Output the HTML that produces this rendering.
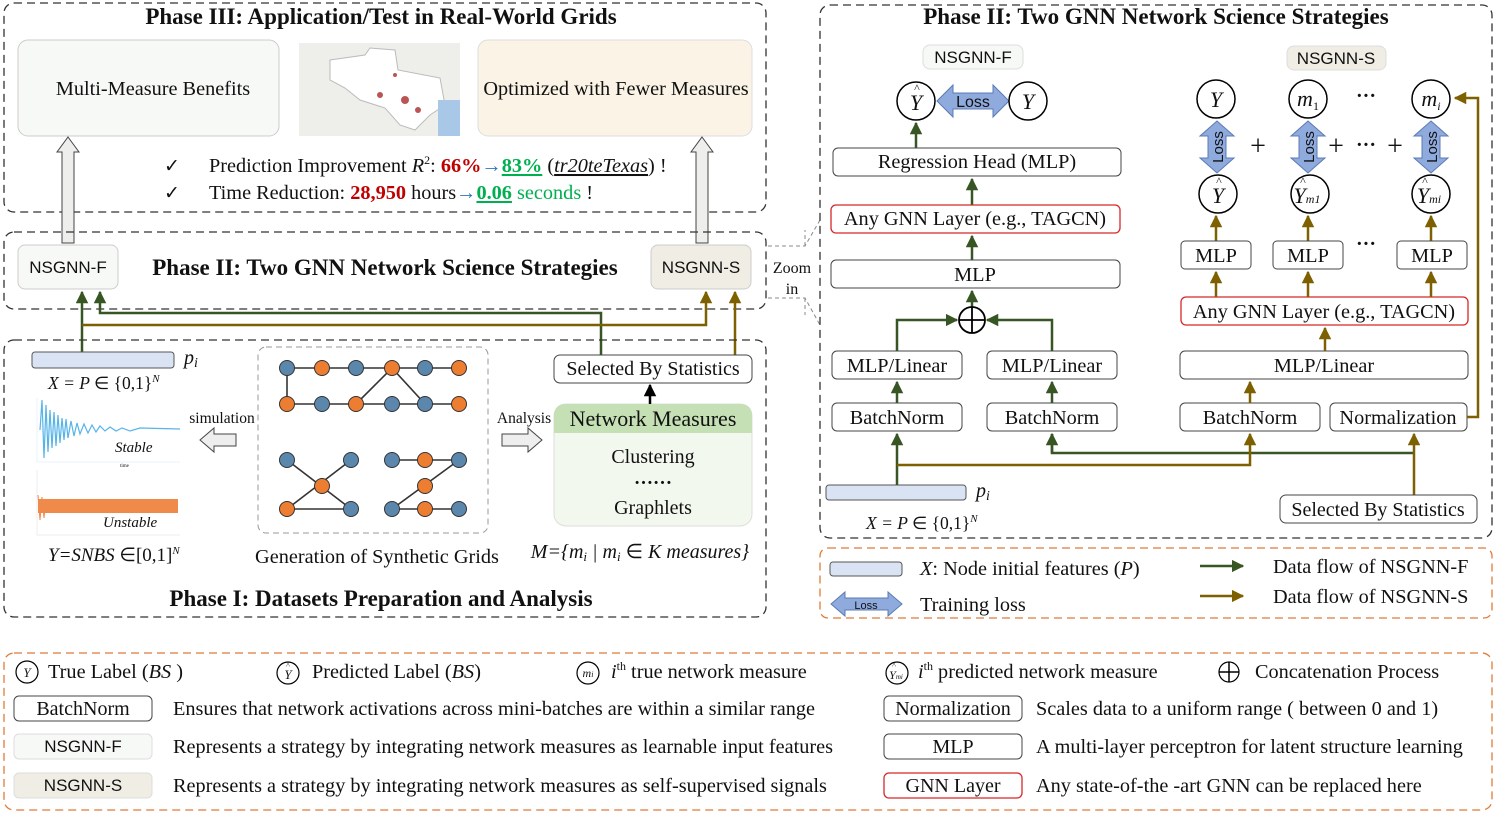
<!DOCTYPE html>
<html><head><meta charset="utf-8"><style>
html,body{margin:0;padding:0;background:#fff}
svg{display:block}
text{font-family:"Liberation Serif",serif;fill:#111}
.s{font-family:"Liberation Sans",sans-serif}
.b{font-weight:bold}
.i{font-style:italic}
</style></head><body>
<svg width="1496" height="815" viewBox="0 0 1496 815" xmlns="http://www.w3.org/2000/svg">
<defs>
<marker id="g" viewBox="0 0 10 10" refX="9" refY="5" markerWidth="5" markerHeight="5" orient="auto"><path d="M0,0L10,5L0,10z" fill="#375623"/></marker>
<marker id="o" viewBox="0 0 10 10" refX="9" refY="5" markerWidth="5" markerHeight="5" orient="auto"><path d="M0,0L10,5L0,10z" fill="#7f6000"/></marker>
<marker id="k" viewBox="0 0 10 10" refX="9" refY="5" markerWidth="5" markerHeight="5" orient="auto"><path d="M0,0L10,5L0,10z" fill="#000"/></marker>
</defs>

<!-- Phase III -->
<rect x="4" y="3" width="762" height="209" rx="10" fill="none" stroke="#333" stroke-width="1.3" stroke-dasharray="8,5"/>
<text x="381" y="24" font-size="23" text-anchor="middle" class="b">Phase III: Application/Test in Real-World Grids</text>
<rect x="18" y="40" width="261" height="96" rx="10" fill="#f7f9f6" stroke="#ccc"/>
<text x="153" y="95" font-size="20.3" text-anchor="middle">Multi-Measure Benefits</text>
<rect x="299" y="43" width="161" height="93" fill="#eeeeea"/>
<path d="M330,60 L365,55 L370,48 L395,50 L398,70 L440,78 L445,105 L430,115 L415,130 L400,125 L385,108 L360,100 L345,88 L330,80z" fill="#fff" stroke="#bbb"/>
<rect x="438" y="100" width="22" height="36" fill="#a9c8e8"/>
<circle cx="405" cy="100" r="4" fill="#b55"/><circle cx="380" cy="95" r="3" fill="#b55"/><circle cx="418" cy="110" r="3" fill="#b55"/><circle cx="395" cy="75" r="2" fill="#b55"/>
<rect x="478" y="40" width="274" height="96" rx="10" fill="#faf3e6" stroke="#ddd"/>
<text x="616" y="95" font-size="20.3" text-anchor="middle">Optimized with Fewer Measures</text>
<polygon points="68,137 79,152 74,152 74,243 62,243 62,152 57,152" fill="#eeeeec" stroke="#444"/>
<polygon points="702,137 713,152 708,152 708,243 696,243 696,152 691,152" fill="#eeeeec" stroke="#444"/>
<text x="164" y="172" font-size="19">✓</text>
<text x="209" y="172" font-size="20.3">Prediction Improvement <tspan class="i">R</tspan><tspan font-size="12" dy="-8">2</tspan><tspan dy="8">:  </tspan><tspan fill="#c00000" class="b">66%</tspan><tspan fill="#2e75b6">→</tspan><tspan fill="#00b050" class="b" text-decoration="underline">83%</tspan> (<tspan class="i" text-decoration="underline">tr20teTexas</tspan>) !</text>
<text x="164" y="199" font-size="19">✓</text>
<text x="209" y="199" font-size="20.3">Time Reduction: <tspan fill="#c00000" class="b">28,950</tspan> hours<tspan fill="#2e75b6">→</tspan><tspan fill="#00b050" class="b" text-decoration="underline">0.06</tspan><tspan fill="#00b050"> seconds</tspan> !</text>

<!-- Phase II small -->
<rect x="4" y="232" width="762" height="77" rx="10" fill="none" stroke="#333" stroke-width="1.3" stroke-dasharray="8,5"/>
<rect x="18" y="245" width="100" height="44" rx="7" fill="#f7f9f6" stroke="#ccc"/>
<text x="68" y="273" font-size="17" text-anchor="middle" class="s">NSGNN-F</text>
<text x="385" y="275" font-size="23" text-anchor="middle" class="b">Phase II: Two GNN Network Science Strategies</text>
<rect x="651" y="245" width="100" height="44" rx="7" fill="#f0ede4" stroke="#ccc"/>
<text x="701" y="273" font-size="17" text-anchor="middle" class="s">NSGNN-S</text>
<path d="M768,246 L805,246 L820,220 M768,298 L805,298 L820,325 M805,246 L805,230 M805,298 L805,315" fill="none" stroke="#888" stroke-dasharray="4,3"/>
<text x="792" y="273" font-size="16" text-anchor="middle">Zoom</text>
<text x="792" y="294" font-size="16" text-anchor="middle">in</text>

<!-- connectors left -->
<path d="M82,352 L82,292" stroke="#375623" stroke-width="2.5" fill="none" marker-end="url(#g)"/>
<path d="M601,356 L601,313 L100,313 L100,292" stroke="#375623" stroke-width="2.5" fill="none" marker-end="url(#g)"/>
<path d="M82,325 L706,325 L706,292" stroke="#7f6000" stroke-width="2.5" fill="none" marker-end="url(#o)"/>
<path d="M735,356 L735,292" stroke="#7f6000" stroke-width="2.5" fill="none" marker-end="url(#o)"/>

<!-- Phase I -->
<rect x="4" y="340" width="762" height="277" rx="10" fill="none" stroke="#333" stroke-width="1.3" stroke-dasharray="8,5"/>
<rect x="32" y="352" width="142" height="16" rx="3" fill="#dae3f3" stroke="#555"/>
<text x="184" y="364" font-size="20" class="i">p<tspan font-size="14" dy="3">i</tspan></text>
<text x="48" y="389" font-size="17.5" class="i">X = P <tspan font-style="normal">∈ {0,1}</tspan><tspan font-size="11" dy="-7">N</tspan></text>
<g stroke="#cfe7f7" stroke-width="0.5"><line x1="37" y1="398" x2="37" y2="462"/><line x1="37" y1="462" x2="180" y2="462"/></g>
<path d="M40,430 L42,400 L44,458 L46,405 L48,452 L50,410 L52,448 L54,412 L56,446 L58,415 L60,443 L62,418 L64,440 L66,419 L68,438 L71,421 L74,436 L77,423 L80,434 L84,424 L88,433 L92,425 L96,432 L100,426 L105,431 L110,427 L116,431 L122,428 L130,431 L140,428 L180,429" fill="none" stroke="#56b4e9" stroke-width="1.2"/>
<text x="115" y="452" font-size="15" class="i">Stable</text>
<text x="120" y="467" font-size="5" fill="#999">time</text>
<rect x="38" y="499" width="140" height="14" fill="#f08a4b"/>
<path d="M38,495 L40,520 L42,497 L44,518 L46,499" stroke="#f08a4b" fill="none"/>
<line x1="37" y1="470" x2="37" y2="535" stroke="#ddd" stroke-width="0.5"/>
<line x1="37" y1="535" x2="180" y2="535" stroke="#ddd" stroke-width="0.5"/>
<text x="103" y="527" font-size="15" class="i">Unstable</text>
<text x="48" y="561" font-size="19" class="i">Y=SNBS <tspan font-style="normal">∈[0,1]</tspan><tspan font-size="11" dy="-7">N</tspan></text>
<text x="222" y="423" font-size="15.5" text-anchor="middle">simulation</text>
<polygon points="200,440 214,428 214,434 236,434 236,446 214,446 214,452" fill="#eee" stroke="#444"/>
<rect x="258" y="347" width="230" height="186" rx="8" fill="none" stroke="#999" stroke-dasharray="6,4"/>
<g stroke="#333" stroke-width="1.6">
<line x1="287" y1="368" x2="459" y2="368"/><line x1="287" y1="404" x2="459" y2="404"/><line x1="287" y1="368" x2="287" y2="404"/>
<line x1="392" y1="368" x2="356" y2="404"/><line x1="392" y1="368" x2="425" y2="404"/>
<line x1="287" y1="460" x2="351" y2="509"/><line x1="351" y1="460" x2="287" y2="509"/><line x1="287" y1="509" x2="351" y2="509"/>
<line x1="392" y1="460" x2="459" y2="460"/><line x1="459" y1="460" x2="392" y2="509"/><line x1="392" y1="509" x2="459" y2="509"/>
</g>
<g stroke="#333" stroke-width="1">
<circle cx="287" cy="368" r="7.5" fill="#5b87ad"/><circle cx="322" cy="368" r="7.5" fill="#ed7d31"/><circle cx="356" cy="368" r="7.5" fill="#5b87ad"/><circle cx="392" cy="368" r="7.5" fill="#ed7d31"/><circle cx="425" cy="368" r="7.5" fill="#5b87ad"/><circle cx="459" cy="368" r="7.5" fill="#ed7d31"/>
<circle cx="287" cy="404" r="7.5" fill="#ed7d31"/><circle cx="322" cy="404" r="7.5" fill="#5b87ad"/><circle cx="356" cy="404" r="7.5" fill="#ed7d31"/><circle cx="392" cy="404" r="7.5" fill="#5b87ad"/><circle cx="425" cy="404" r="7.5" fill="#5b87ad"/><circle cx="459" cy="404" r="7.5" fill="#ed7d31"/>
<circle cx="287" cy="460" r="7.5" fill="#5b87ad"/><circle cx="351" cy="460" r="7.5" fill="#5b87ad"/><circle cx="322" cy="486" r="7.5" fill="#ed7d31"/><circle cx="287" cy="509" r="7.5" fill="#ed7d31"/><circle cx="351" cy="509" r="7.5" fill="#5b87ad"/>
<circle cx="392" cy="460" r="7.5" fill="#5b87ad"/><circle cx="425" cy="460" r="7.5" fill="#ed7d31"/><circle cx="459" cy="460" r="7.5" fill="#5b87ad"/><circle cx="425" cy="486" r="7.5" fill="#ed7d31"/><circle cx="392" cy="509" r="7.5" fill="#5b87ad"/><circle cx="425" cy="509" r="7.5" fill="#ed7d31"/><circle cx="459" cy="509" r="7.5" fill="#5b87ad"/>
</g>
<text x="377" y="563" font-size="20.3" text-anchor="middle">Generation of Synthetic Grids</text>
<text x="524" y="423" font-size="15.5" text-anchor="middle">Analysis</text>
<polygon points="542,440 528,428 528,434 502,434 502,446 528,446 528,452" fill="#eee" stroke="#444"/>
<rect x="554" y="355" width="198" height="28" rx="6" fill="#fff" stroke="#444"/>
<text x="653" y="375" font-size="20" text-anchor="middle">Selected By Statistics</text>
<rect x="554" y="404" width="198" height="122" rx="12" fill="#f3f8ee" stroke="#ddd"/>
<path d="M554,433 L554,416 Q554,404 566,404 L740,404 Q752,404 752,416 L752,433z" fill="#c5e0b4"/>
<text x="653" y="426" font-size="22" text-anchor="middle">Network Measures</text>
<text x="653" y="463" font-size="20" text-anchor="middle">Clustering</text>
<text x="653" y="484" font-size="19" text-anchor="middle" class="b">……</text>
<text x="653" y="514" font-size="20" text-anchor="middle">Graphlets</text>
<line x1="650" y1="404" x2="650" y2="385" stroke="#000" stroke-width="2.5" marker-end="url(#k)"/>
<text x="640" y="558" font-size="20" text-anchor="middle" class="i">M={m<tspan font-size="13" dy="3">i</tspan><tspan dy="-3"> | m</tspan><tspan font-size="13" dy="3">i</tspan><tspan dy="-3" font-style="normal"> ∈ </tspan>K measures}</text>
<text x="381" y="606" font-size="23" text-anchor="middle" class="b">Phase I: Datasets Preparation and Analysis</text>

<!-- Right Phase II -->
<rect x="820" y="5" width="672" height="533" rx="10" fill="none" stroke="#333" stroke-width="1.3" stroke-dasharray="8,5"/>
<text x="1156" y="24" font-size="23" text-anchor="middle" class="b">Phase II: Two GNN Network Science Strategies</text>
<rect x="923" y="45" width="100" height="24" rx="7" fill="#f7f9f6" stroke="#ddd"/>
<text x="973" y="63" font-size="17" text-anchor="middle" class="s">NSGNN-F</text>
<circle cx="916" cy="101" r="19" fill="#fff" stroke="#000" stroke-width="1.5"/>
<text x="916" y="110" font-size="22" text-anchor="middle" class="i">Y</text><text x="917" y="92" font-size="12" text-anchor="middle">^</text>
<polygon points="937,101 953,85 953,93 993,93 993,85 1009,101 993,117 993,109 953,109 953,117" fill="#8faadc" stroke="#5b7bb5"/>
<text x="973" y="107" font-size="16" text-anchor="middle" class="s" fill="#fff">Loss</text>
<circle cx="1028" cy="101" r="19" fill="#fff" stroke="#000" stroke-width="1.5"/>
<text x="1028" y="109" font-size="22" text-anchor="middle" class="i">Y</text>
<line x1="916" y1="148" x2="916" y2="123" stroke="#375623" stroke-width="2.5" marker-end="url(#g)"/>
<rect x="833" y="148" width="288" height="28" rx="5" fill="#fff" stroke="#444"/>
<text x="977" y="168" font-size="20.3" text-anchor="middle">Regression Head (MLP)</text>
<line x1="972" y1="205" x2="972" y2="179" stroke="#375623" stroke-width="2.5" marker-end="url(#g)"/>
<rect x="831" y="205" width="289" height="28" rx="5" fill="#fff" stroke="#d62828" stroke-width="1.3"/>
<text x="975" y="225" font-size="20.3" text-anchor="middle">Any GNN Layer (e.g., TAGCN)</text>
<line x1="972" y1="260" x2="972" y2="236" stroke="#375623" stroke-width="2.5" marker-end="url(#g)"/>
<rect x="831" y="260" width="289" height="28" rx="5" fill="#fff" stroke="#444"/>
<text x="975" y="281" font-size="20.3" text-anchor="middle">MLP</text>
<line x1="972" y1="307" x2="972" y2="291" stroke="#375623" stroke-width="2.5" marker-end="url(#g)"/>
<circle cx="972" cy="320" r="13" fill="#fff" stroke="#000" stroke-width="1.8"/>
<path d="M959,320H985M972,307V333" stroke="#000" stroke-width="1.8"/>
<path d="M897,351 L897,320 L957,320" stroke="#375623" stroke-width="2.5" fill="none" marker-end="url(#g)"/>
<path d="M1052,351 L1052,320 L987,320" stroke="#375623" stroke-width="2.5" fill="none" marker-end="url(#g)"/>
<rect x="832" y="351" width="130" height="28" rx="5" fill="#fff" stroke="#444"/>
<text x="897" y="372" font-size="20.3" text-anchor="middle">MLP/Linear</text>
<rect x="987" y="351" width="130" height="28" rx="5" fill="#fff" stroke="#444"/>
<text x="1052" y="372" font-size="20.3" text-anchor="middle">MLP/Linear</text>
<line x1="897" y1="403" x2="897" y2="382" stroke="#375623" stroke-width="2.5" marker-end="url(#g)"/>
<line x1="1052" y1="403" x2="1052" y2="382" stroke="#375623" stroke-width="2.5" marker-end="url(#g)"/>
<rect x="832" y="403" width="130" height="28" rx="5" fill="#fff" stroke="#444"/>
<text x="897" y="424" font-size="20.3" text-anchor="middle">BatchNorm</text>
<rect x="987" y="403" width="130" height="28" rx="5" fill="#fff" stroke="#444"/>
<text x="1052" y="424" font-size="20.3" text-anchor="middle">BatchNorm</text>
<rect x="1180" y="403" width="140" height="28" rx="5" fill="#fff" stroke="#444"/>
<text x="1250" y="424" font-size="20.3" text-anchor="middle">BatchNorm</text>
<rect x="1330" y="403" width="137" height="28" rx="5" fill="#fff" stroke="#444"/>
<text x="1398" y="424" font-size="20.3" text-anchor="middle">Normalization</text>
<rect x="826" y="485" width="140" height="15" rx="3" fill="#dae3f3" stroke="#555"/>
<text x="976" y="497" font-size="20" class="i">p<tspan font-size="14" dy="3">i</tspan></text>
<text x="866" y="529" font-size="17.5" class="i">X = P <tspan font-style="normal">∈ {0,1}</tspan><tspan font-size="11" dy="-7">N</tspan></text>
<path d="M1052,434 L1052,453 L1414,453" stroke="#375623" stroke-width="2.5" fill="none"/>
<path d="M1052,453 L1052,434" stroke="#375623" stroke-width="2.5" marker-end="url(#g)"/>
<path d="M897,485 L897,434" stroke="#375623" stroke-width="2.5" fill="none" marker-end="url(#g)"/>
<path d="M897,465 L1250,465 L1250,434" stroke="#7f6000" stroke-width="2.5" fill="none" marker-end="url(#o)"/>
<path d="M1414,495 L1414,434" stroke="#7f6000" stroke-width="2.5" fill="none" marker-end="url(#o)"/>
<path d="M1467,417 L1478,417 L1478,98 L1455,98" stroke="#7f6000" stroke-width="2.5" fill="none" marker-end="url(#o)"/>
<rect x="1280" y="495" width="197" height="28" rx="6" fill="#fff" stroke="#444"/>
<text x="1378" y="516" font-size="20" text-anchor="middle">Selected By Statistics</text>
<rect x="1180" y="351" width="288" height="28" rx="5" fill="#fff" stroke="#444"/>
<text x="1324" y="372" font-size="20.3" text-anchor="middle">MLP/Linear</text>
<line x1="1250" y1="403" x2="1250" y2="382" stroke="#7f6000" stroke-width="2.5" marker-end="url(#o)"/>
<rect x="1181" y="297" width="287" height="28" rx="5" fill="#fff" stroke="#d62828" stroke-width="1.3"/>
<text x="1324" y="318" font-size="20.3" text-anchor="middle">Any GNN Layer (e.g., TAGCN)</text>
<line x1="1325" y1="351" x2="1325" y2="328" stroke="#7f6000" stroke-width="2.5" marker-end="url(#o)"/>
<g stroke="#7f6000" stroke-width="2.5">
<line x1="1216" y1="297" x2="1216" y2="272" marker-end="url(#o)"/><line x1="1308" y1="297" x2="1308" y2="272" marker-end="url(#o)"/><line x1="1431" y1="297" x2="1431" y2="272" marker-end="url(#o)"/>
<line x1="1216" y1="241" x2="1216" y2="216" marker-end="url(#o)"/><line x1="1308" y1="241" x2="1308" y2="216" marker-end="url(#o)"/><line x1="1431" y1="241" x2="1431" y2="216" marker-end="url(#o)"/>
</g>
<rect x="1181" y="241" width="70" height="28" rx="4" fill="#fff" stroke="#444"/><text x="1216" y="262" font-size="20.3" text-anchor="middle">MLP</text>
<rect x="1273" y="241" width="70" height="28" rx="4" fill="#fff" stroke="#444"/><text x="1308" y="262" font-size="20.3" text-anchor="middle">MLP</text>
<rect x="1397" y="241" width="70" height="28" rx="4" fill="#fff" stroke="#444"/><text x="1432" y="262" font-size="20.3" text-anchor="middle">MLP</text>
<text x="1366" y="250" font-size="20" text-anchor="middle" class="b">···</text>
<g fill="#fff" stroke="#000" stroke-width="1.5">
<circle cx="1218" cy="194" r="19"/><circle cx="1310" cy="194" r="19"/><circle cx="1431" cy="194" r="19"/>
<circle cx="1216" cy="99" r="19"/><circle cx="1308" cy="99" r="19"/><circle cx="1431" cy="99" r="19"/>
</g>
<text x="1218" y="203" font-size="22" text-anchor="middle" class="i">Y</text><text x="1219" y="185" font-size="12" text-anchor="middle">^</text>
<text x="1307" y="203" font-size="22" text-anchor="middle" class="i">Y<tspan font-size="12">m1</tspan></text><text x="1303" y="185" font-size="12" text-anchor="middle">^</text>
<text x="1429" y="203" font-size="22" text-anchor="middle" class="i">Y<tspan font-size="12">mi</tspan></text><text x="1425" y="185" font-size="12" text-anchor="middle">^</text>
<text x="1216" y="107" font-size="22" text-anchor="middle" class="i">Y</text>
<text x="1308" y="106" font-size="22" text-anchor="middle" class="i">m<tspan font-size="12" dy="4" font-style="normal">1</tspan></text>
<text x="1431" y="106" font-size="22" text-anchor="middle" class="i">m<tspan font-size="12" dy="4">i</tspan></text>
<text x="1366" y="102" font-size="20" text-anchor="middle" class="b">···</text>
<g fill="#8faadc" stroke="#5b7bb5">
<polygon points="1217,121 1234,136 1226,136 1226,158 1234,158 1217,173 1200,158 1208,158 1208,136 1200,136"/>
<polygon points="1308,121 1325,136 1317,136 1317,158 1325,158 1308,173 1291,158 1299,158 1299,136 1291,136"/>
<polygon points="1431,121 1448,136 1440,136 1440,158 1448,158 1431,173 1414,158 1422,158 1422,136 1414,136"/>
</g>
<text transform="translate(1223,147) rotate(-90)" font-size="15" text-anchor="middle" class="s" fill="#fff">Loss</text>
<text transform="translate(1314,147) rotate(-90)" font-size="15" text-anchor="middle" class="s" fill="#fff">Loss</text>
<text transform="translate(1437,147) rotate(-90)" font-size="15" text-anchor="middle" class="s" fill="#fff">Loss</text>
<text x="1258" y="155" font-size="28" text-anchor="middle">+</text>
<text x="1336" y="155" font-size="28" text-anchor="middle">+</text>
<text x="1366" y="151" font-size="20" text-anchor="middle" class="b">···</text>
<text x="1395" y="155" font-size="28" text-anchor="middle">+</text>
<rect x="1287" y="46" width="99" height="24" rx="7" fill="#f0ede4" stroke="#ddd"/>
<text x="1336" y="64" font-size="17" text-anchor="middle" class="s">NSGNN-S</text>

<!-- small legend -->
<rect x="820" y="548" width="672" height="70" rx="8" fill="none" stroke="#e07b39" stroke-width="1.3" stroke-dasharray="8,5"/>
<rect x="830" y="562" width="72" height="14" rx="3" fill="#dae3f3" stroke="#555"/>
<text x="920" y="575" font-size="20.3"><tspan class="i">X</tspan>: Node initial features (<tspan class="i">P</tspan>)</text>
<polygon points="831,604 845,592 845,598 888,598 888,592 902,604 888,616 888,610 845,610 845,616" fill="#8faadc" stroke="#5b7bb5"/>
<text x="866" y="609" font-size="11" text-anchor="middle" class="s" fill="#fff">Loss</text>
<text x="920" y="611" font-size="20.3">Training loss</text>
<line x1="1200" y1="566" x2="1243" y2="566" stroke="#375623" stroke-width="2.5" marker-end="url(#g)"/>
<text x="1273" y="573" font-size="20.3">Data flow of NSGNN-F</text>
<line x1="1200" y1="596" x2="1243" y2="596" stroke="#7f6000" stroke-width="2.5" marker-end="url(#o)"/>
<text x="1273" y="603" font-size="20.3">Data flow of NSGNN-S</text>

<!-- bottom legend -->
<rect x="4" y="653" width="1488" height="157" rx="10" fill="none" stroke="#e07b39" stroke-width="1.3" stroke-dasharray="8,5"/>
<g fill="#fff" stroke="#000" stroke-width="1.2">
<circle cx="27" cy="672" r="11"/><circle cx="288" cy="673" r="11"/><circle cx="588" cy="673" r="11"/><circle cx="897" cy="673" r="11"/><circle cx="1229" cy="672" r="10"/>
</g>
<path d="M1219,672H1239M1229,662V682" stroke="#000" stroke-width="1.5"/>
<text x="27" y="677" font-size="13" text-anchor="middle" class="i">Y</text>
<text x="288" y="679" font-size="13" text-anchor="middle" class="i">Y</text><text x="288" y="668" font-size="8" text-anchor="middle">^</text>
<text x="588" y="677" font-size="12" text-anchor="middle" class="i">m<tspan font-size="8">i</tspan></text>
<text x="896" y="679" font-size="12" text-anchor="middle" class="i">Y<tspan font-size="7">mi</tspan></text><text x="894" y="668" font-size="8" text-anchor="middle">^</text>
<text x="48" y="678" font-size="20.3">True Label (<tspan class="i">BS </tspan>)</text>
<text x="312" y="678" font-size="20.3">Predicted Label (<tspan class="i">BS</tspan>)</text>
<text x="611" y="678" font-size="20.3"><tspan class="i">i</tspan><tspan font-size="12" dy="-8">th</tspan><tspan dy="8"> true network measure</tspan></text>
<text x="918" y="678" font-size="20.3"><tspan class="i">i</tspan><tspan font-size="12" dy="-8">th</tspan><tspan dy="8"> predicted network measure</tspan></text>
<text x="1255" y="678" font-size="20.3">Concatenation Process</text>
<rect x="14" y="696" width="138" height="25" rx="5" fill="#fff" stroke="#444"/><text x="83" y="715" font-size="20" text-anchor="middle">BatchNorm</text>
<text x="173" y="715" font-size="20.3">Ensures that network activations across mini-batches are within a similar range</text>
<rect x="884" y="696" width="138" height="25" rx="5" fill="#fff" stroke="#444"/><text x="953" y="715" font-size="20" text-anchor="middle">Normalization</text>
<text x="1036" y="715" font-size="20.3">Scales data to a uniform range ( between 0 and 1)</text>
<rect x="14" y="734" width="138" height="25" rx="5" fill="#f7f9f6" stroke="#ddd"/><text x="83" y="752" font-size="17" text-anchor="middle" class="s">NSGNN-F</text>
<text x="173" y="753" font-size="20.3">Represents a strategy by integrating network measures as learnable input features</text>
<rect x="884" y="734" width="138" height="25" rx="5" fill="#fff" stroke="#444"/><text x="953" y="753" font-size="20" text-anchor="middle">MLP</text>
<text x="1036" y="753" font-size="20.3">A multi-layer perceptron for latent structure learning</text>
<rect x="14" y="773" width="138" height="25" rx="5" fill="#f0ede4" stroke="#ddd"/><text x="83" y="791" font-size="17" text-anchor="middle" class="s">NSGNN-S</text>
<text x="173" y="792" font-size="20.3">Represents a strategy by integrating network measures as self-supervised signals</text>
<rect x="884" y="773" width="138" height="25" rx="5" fill="#fff" stroke="#d62828" stroke-width="1.3"/><text x="953" y="792" font-size="20" text-anchor="middle">GNN Layer</text>
<text x="1036" y="792" font-size="20.3">Any state-of-the -art GNN can be replaced here</text>
</svg>
</body></html>
